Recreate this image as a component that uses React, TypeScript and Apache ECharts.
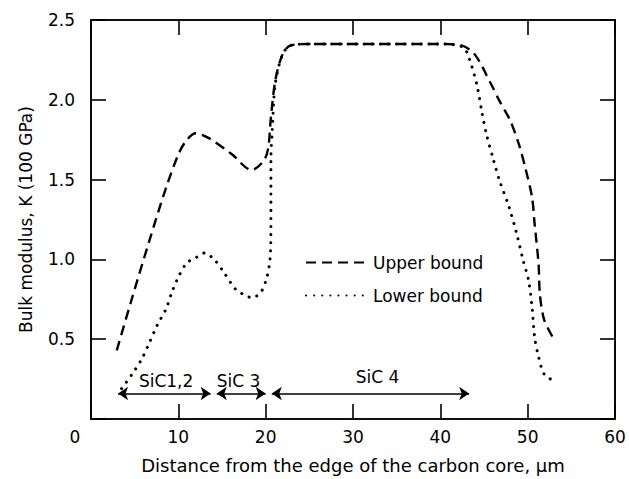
import React, { useEffect, useRef } from "react";
import * as echarts from "echarts";

// Upper bound (dashed)
const upperX = [2.95, 4.66, 6.7, 8.6, 10.1, 11.0, 12.0, 13.5, 16.1, 18.4, 19.8, 20.3, 20.6, 21.1, 21.9, 22.8, 25, 30, 35, 40, 42.5, 44.0, 45.7, 46.8, 48.0, 49.0, 49.7, 50.5, 50.8, 51.25, 51.4, 51.9, 53];
const upperY = [0.43, 0.75, 1.12, 1.45, 1.67, 1.75, 1.79, 1.76, 1.66, 1.56, 1.62, 1.7, 1.89, 2.12, 2.28, 2.34, 2.35, 2.35, 2.35, 2.35, 2.34, 2.28, 2.11, 1.99, 1.87, 1.72, 1.58, 1.39, 1.22, 0.97, 0.78, 0.62, 0.5];

// Lower bound (dotted)
const lowerX = [3.5, 4.7, 5.8, 6.7, 7.6, 8.6, 9.3, 10.1, 11.0, 12.0, 13.0, 14.1, 15.2, 16.6, 17.5, 18.4, 19.4, 20.1, 20.5, 20.6, 20.6, 20.6, 20.75, 21.1, 21.9, 22.8, 25, 30, 35, 40, 42.6, 43.3, 44.2, 44.8, 45.3, 46.1, 46.8, 47.8, 48.75, 49.5, 50.1, 50.5, 50.8, 51.25, 51.9, 53];
const lowerY = [0.19, 0.28, 0.375, 0.48, 0.59, 0.69, 0.8, 0.9, 0.98, 1.01, 1.04, 1.0, 0.92, 0.81, 0.78, 0.76, 0.79, 0.88, 1.0, 1.2, 1.45, 1.62, 1.8, 2.1, 2.28, 2.34, 2.35, 2.35, 2.35, 2.35, 2.33, 2.26, 2.09, 1.91, 1.78, 1.62, 1.49, 1.34, 1.16, 0.99, 0.87, 0.7, 0.51, 0.39, 0.28, 0.24];

// Phase spans (arrows) and their labels
const spanNames = ["SiC1,2", "SiC 3", "SiC 4"];
const spanStart = [3.1, 14.4, 20.7];
const spanEnd = [13.7, 20.0, 43.3];
const spanLevel = 0.16;
const labelX = [8.6, 16.9, 32.8];
const labelY = [0.24, 0.24, 0.265];

const xTicks = [0, 10, 20, 30, 40, 50, 60];
const yTicks = [0.5, 1.0, 1.5, 2.0, 2.5];

const FONT = "DejaVu Sans";

export default function App() {
  const ref = useRef<HTMLDivElement>(null);
  useEffect(() => {
    if (!ref.current) return;
    const chart = echarts.init(ref.current, null, { renderer: "svg" });
    const mkLine = () => ({ show: true, onZero: false, lineStyle: { color: "#000", width: 1.6 } });
    const mkTick = () => ({ show: true, inside: true, length: 15, lineStyle: { color: "#000", width: 1.6 } });
    chart.setOption({
      animation: false,
      backgroundColor: "#fff",
      grid: { left: 91, right: 14, top: 20, bottom: 57, show: true, borderColor: "#000", borderWidth: 1.6, backgroundColor: "transparent" },
      legend: {
        orient: "vertical",
        left: 300,
        top: 249,
        itemWidth: 62,
        itemHeight: 14,
        itemGap: 16,
        itemStyle: { opacity: 0 },
        textStyle: { fontFamily: FONT, fontSize: 17, color: "#000" },
        data: ["Upper bound", "Lower bound"],
      },
      xAxis: [
        {
          type: "value",
          min: xTicks[0],
          max: xTicks[xTicks.length - 1],
          interval: 10,
          position: "bottom",
          axisLine: mkLine(),
          axisTick: mkTick(),
          splitLine: { show: false },
          axisLabel: {
            margin: 9,
            fontFamily: FONT,
            fontSize: 17,
            color: "#000",
            formatter: (v: number) => (v === 0 ? "{z|0}" : String(v)),
            rich: { z: { fontFamily: FONT, fontSize: 17, color: "#000", padding: [0, 32, 0, 0] } },
          },
          name: "Distance from the edge of the carbon core, \u00b5m",
          nameLocation: "middle",
          nameGap: 37,
          nameTextStyle: { fontFamily: FONT, fontSize: 18, color: "#000" },
        },
        {
          type: "value",
          show: true,
          min: xTicks[0],
          max: xTicks[xTicks.length - 1],
          interval: 10,
          position: "top",
          axisLine: mkLine(),
          axisTick: mkTick(),
          axisLabel: { show: false },
          splitLine: { show: false },
        },
      ],
      yAxis: [
        {
          type: "value",
          min: 0,
          max: yTicks[yTicks.length - 1],
          interval: 0.5,
          position: "left",
          axisLine: mkLine(),
          axisTick: mkTick(),
          splitLine: { show: false },
          axisLabel: {
            margin: 16,
            fontFamily: FONT,
            fontSize: 17,
            color: "#000",
            formatter: (v: number) => (yTicks.includes(v) ? v.toFixed(1) : ""),
          },
          name: "Bulk modulus, K (100 GPa)",
          nameLocation: "middle",
          nameGap: 57,
          nameTextStyle: { fontFamily: FONT, fontSize: 17, color: "#000" },
        },
        {
          type: "value",
          show: true,
          min: 0,
          max: yTicks[yTicks.length - 1],
          interval: 0.5,
          position: "right",
          axisLine: mkLine(),
          axisTick: mkTick(),
          axisLabel: { show: false },
          splitLine: { show: false },
        },
      ],
      series: [
        {
          name: "Upper bound",
          type: "line",
          xAxisIndex: 0,
          yAxisIndex: 0,
          data: upperX.map((x, i) => [x, upperY[i]]),
          smooth: 0.3,
          symbol: "none",
          color: "#000",
          lineStyle: { color: "#000", width: 2.4, type: [10, 6] },
        },
        {
          name: "Lower bound",
          type: "line",
          xAxisIndex: 0,
          yAxisIndex: 0,
          data: lowerX.map((x, i) => [x, lowerY[i]]),
          smooth: 0.3,
          symbol: "none",
          color: "#000",
          lineStyle: { color: "#000", width: 3, type: [0.1, 8], cap: "round" },
        },
        {
          name: "spans",
          type: "lines",
          coordinateSystem: "cartesian2d",
          xAxisIndex: 0,
          yAxisIndex: 0,
          symbol: ["arrow", "arrow"],
          symbolSize: 10,
          lineStyle: { color: "#000", width: 1.6, opacity: 1 },
          data: spanNames.map((n, i) => ({
            name: n,
            coords: [
              [spanStart[i], spanLevel],
              [spanEnd[i], spanLevel],
            ],
          })),
        },
        {
          name: "spanLabels",
          type: "scatter",
          xAxisIndex: 0,
          yAxisIndex: 0,
          symbolSize: 0,
          z: 5,
          itemStyle: { opacity: 1, color: "#000" },
          data: spanNames.map((n, i) => ({ name: n, value: [labelX[i], labelY[i]] })),
          label: {
            show: true,
            position: "inside",
            formatter: (p: any) => p.name,
            fontFamily: FONT,
            fontSize: 17,
            color: "#000",
            opacity: 1,
            textBorderWidth: 0,
            textBorderColor: "transparent",
          },
        },
        {
          name: "frame",
          type: "scatter",
          xAxisIndex: 1,
          yAxisIndex: 1,
          symbolSize: 0,
          silent: true,
          data: [[30, 1.25]],
        },
      ],
    });
    return () => chart.dispose();
  }, []);
  return <div ref={ref} style={{ position: "fixed", left: 0, top: 0, width: 629, height: 479 }} />;
}
